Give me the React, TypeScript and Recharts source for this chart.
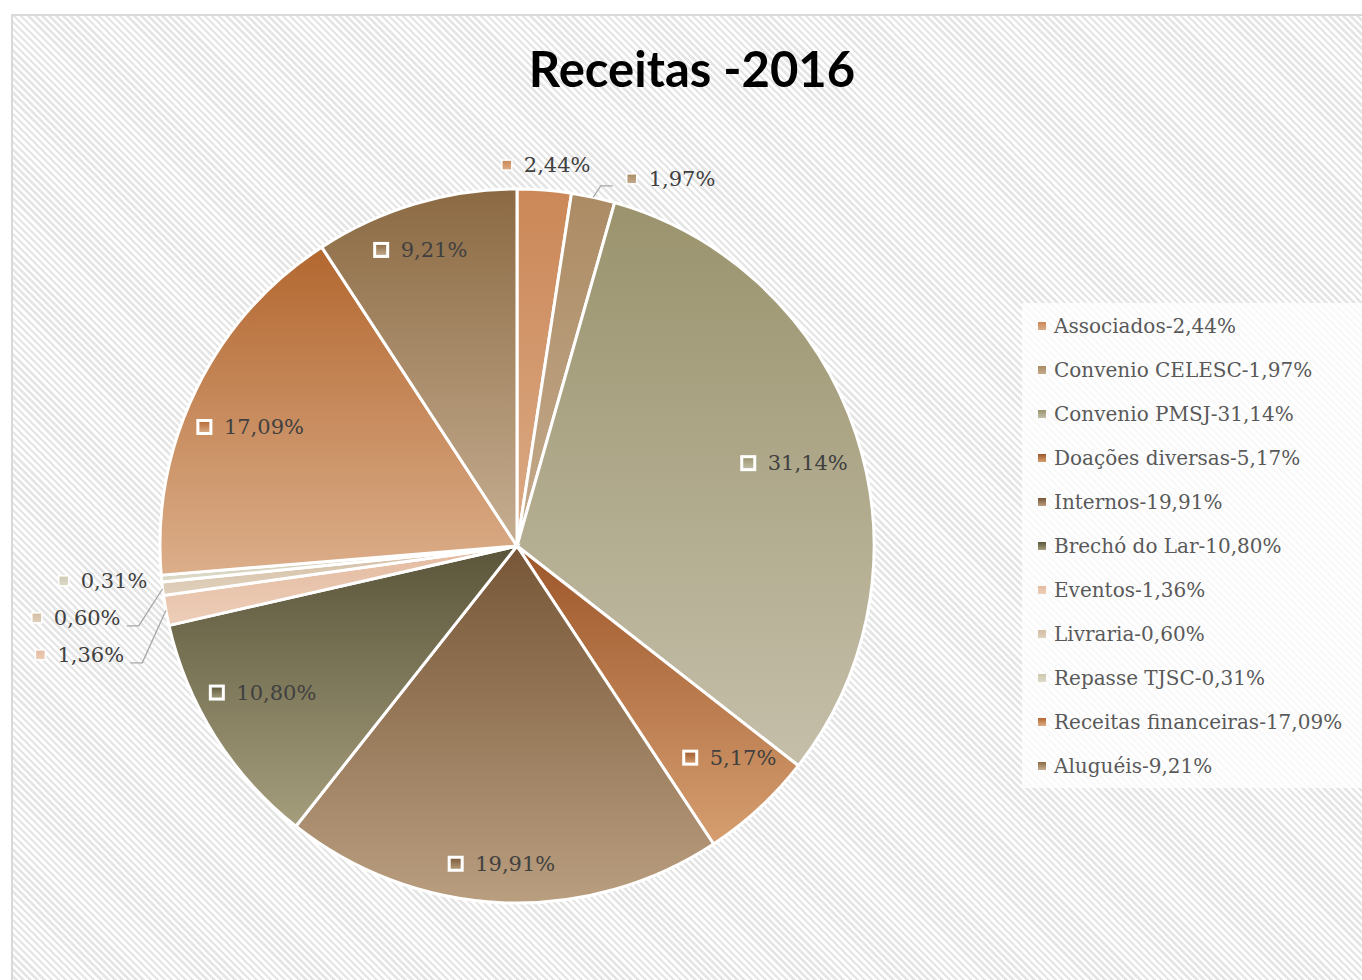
import { PieChart, Pie, Cell, Legend } from 'recharts';

const categories = [
  'Associados',
  'Convenio CELESC',
  'Convenio PMSJ',
  'Doações diversas',
  'Internos',
  'Brechó do Lar',
  'Eventos',
  'Livraria',
  'Repasse TJSC',
  'Receitas financeiras',
  'Aluguéis',
];
const shares = [2.44, 1.97, 31.14, 5.17, 19.91, 10.8, 1.36, 0.6, 0.31, 17.09, 9.21];
const shareLabels = ['2,44%', '1,97%', '31,14%', '5,17%', '19,91%', '10,80%', '1,36%', '0,60%', '0,31%', '17,09%', '9,21%'];

// top / bottom of each slice's vertical gradient
const topColors = ['#cb8757', '#ab8b64', '#9a936d', '#9c5629', '#765636', '#5a553a', '#e3baa0', '#d3bea3', '#cdc9b0', '#b3672f', '#8b6a43'];
const bottomColors = ['#dbab86', '#c4ab8d', '#c5bfaa', '#d69e70', '#b99e7f', '#a59e7d', '#edceb8', '#e0d0bc', '#dddac9', '#dbae8a', '#c6ae91'];

const W = 1362;
const H = 980;
const CX = 517;
const CY = 546;
const R = 357;
const RAD = Math.PI / 180;
const FONT = '"DejaVu Serif", serif';

const data = categories.map((name, i) => ({ name, value: shares[i] }));

const total = shares.reduce((a, b) => a + b, 0);
const midAngles = shares.map((v, i) => {
  const before = shares.slice(0, i).reduce((a, b) => a + b, 0);
  return 90 - (360 * (before + v / 2)) / total;
});

const polar = (r: number, a: number) => [CX + r * Math.cos(a * RAD), CY - r * Math.sin(a * RAD)];

// rough text width for DejaVu Serif 21px
const textWidth = (s: string) =>
  s.split('').reduce((w, ch) => w + (ch === ',' ? 6.7 : ch === '%' ? 20 : 13.4), 0);

type Place = { x: number; y: number; moved: boolean };

// place the small slice labels outside, pushing them apart where they collide
function outsidePlaces() {
  const places: Record<number, Place> = {};
  const small = shares.map((v, i) => i).filter((i) => shares[i] < 3);
  const right = small.filter((i) => Math.cos(midAngles[i] * RAD) >= 0);
  const left = small.filter((i) => Math.cos(midAngles[i] * RAD) < 0);

  let prevEnd = -Infinity;
  right.forEach((i) => {
    const [nx, ny] = polar(R + 25, midAngles[i]);
    const w = 22 + textWidth(shareLabels[i]);
    let start = nx - w / 2;
    let moved = false;
    if (start < prevEnd + 8) {
      start = prevEnd + 36;
      moved = true;
    }
    places[i] = { x: start, y: moved ? ny + 6 : ny, moved };
    prevEnd = start + w;
  });

  const sorted = [...left].sort((a, b) => polar(R + 25, midAngles[a])[1] - polar(R + 25, midAngles[b])[1]);
  let prevY = -Infinity;
  sorted.forEach((i) => {
    const [nx, ny] = polar(R + 25, midAngles[i]);
    const y = Math.max(ny, prevY + 37);
    const moved = y > ny + 3;
    // x is the right end of the text
    places[i] = { x: moved ? nx - 17 : nx + 11, y, moved };
    prevY = y;
  });
  return places;
}

const outside = outsidePlaces();

const renderLabel = (props: any) => {
  const i = props.index as number;
  const mid = props.midAngle as number;
  const label = shareLabels[i];
  const tw = textWidth(label);
  const grad = `url(#slice${i})`;

  if (shares[i] >= 3) {
    const w = 26 + tw;
    // best fit: labels lean a little toward the horizontal and wide ones sit further in
    const a = mid - 2.5 * Math.sin(2 * mid * RAD);
    const r = R * 0.895 - 0.29 * w * Math.abs(Math.cos(a * RAD));
    const [x, y] = polar(r, a);
    const x0 = x - w / 2;
    return (
      <g key={`l${i}`}>
        <rect x={x0} y={y - 6.5} width={13} height={13} fill={grad} stroke="#ffffff" strokeWidth={3} />
        <text x={x0 + 26} y={y} fill="#404040" fontSize={21} fontFamily={FONT} dominantBaseline="central">
          {label}
        </text>
      </g>
    );
  }

  const p = outside[i];
  const [ex, ey] = polar(R, mid);
  const isRight = Math.cos(mid * RAD) >= 0;
  if (isRight) {
    return (
      <g key={`l${i}`}>
        {p.moved && (
          <polyline
            points={`${ex},${ey} ${p.x - 26},${p.y + 7} ${p.x - 14},${p.y + 7}`}
            fill="none"
            stroke="#a6a6a6"
            strokeWidth={1.3}
          />
        )}
        <rect x={p.x} y={p.y - 5} width={10} height={10} fill={grad} stroke="#ffffff" strokeWidth={1.5} />
        <text x={p.x + 22} y={p.y} fill="#404040" fontSize={21} fontFamily={FONT} dominantBaseline="central">
          {label}
        </text>
      </g>
    );
  }
  const start = p.x - tw;
  return (
    <g key={`l${i}`}>
      {p.moved && (
        <polyline
          points={`${ex},${ey} ${p.x + 18},${p.y + 8} ${p.x + 6},${p.y + 8}`}
          fill="none"
          stroke="#a6a6a6"
          strokeWidth={1.3}
        />
      )}
      <rect x={start - 22} y={p.y - 5} width={10} height={10} fill={grad} stroke="#ffffff" strokeWidth={1.5} />
      <text x={start} y={p.y} fill="#404040" fontSize={21} fontFamily={FONT} dominantBaseline="central">
        {label}
      </text>
    </g>
  );
};

const renderLegend = () => (
  <div
    style={{
      background: 'rgba(255,255,255,0.75)',
      width: 340,
      height: 485,
      paddingTop: 1,
      boxSizing: 'border-box',
    }}
  >
    {categories.map((c, i) => (
      <div
        key={c}
        style={{
          display: 'flex',
          alignItems: 'center',
          height: 44,
          fontFamily: FONT,
          fontSize: 20,
          color: '#595959',
          whiteSpace: 'nowrap',
        }}
      >
        <span
          style={{
            display: 'inline-block',
            width: 8,
            height: 8,
            marginLeft: 16,
            marginRight: 8,
            background: `linear-gradient(${topColors[i]}, ${bottomColors[i]})`,
          }}
        />
        {c}-{shareLabels[i]}
      </div>
    ))}
  </div>
);

export default function App() {
  return (
    <div
      style={{
        position: 'absolute',
        left: 0,
        top: 0,
        width: W,
        height: H,
        overflow: 'hidden',
        background: '#ffffff',
      }}
    >
      <div
        style={{
          position: 'absolute',
          left: 11,
          top: 14,
          width: W,
          height: H,
          borderLeft: '2px solid #d9d9d9',
          borderTop: '2px solid #d9d9d9',
          background:
            'repeating-linear-gradient(45deg, #ffffff 0px, #ffffff 2.5px, #e6e6e6 2.5px, #e6e6e6 5px)',
        }}
      />
      <div
        style={{
          position: 'absolute',
          left: 0,
          top: 40,
          width: 1384,
          textAlign: 'center',
          fontFamily: 'Lato, sans-serif',
          fontWeight: 700,
          fontSize: 49,
          lineHeight: '56px',
          color: '#000000',
        }}
      >
        Receitas -2016
      </div>
      <div style={{ position: 'absolute', left: 0, top: 0 }}>
        <PieChart width={W} height={H} margin={{ top: 0, right: 0, bottom: 0, left: 0 }}>
          <defs>
            {categories.map((c, i) => (
              <linearGradient key={c} id={`slice${i}`} x1="0" y1="0" x2="0" y2="1">
                <stop offset="0%" stopColor={topColors[i]} />
                <stop offset="100%" stopColor={bottomColors[i]} />
              </linearGradient>
            ))}
          </defs>
          <Pie
            data={data}
            dataKey="value"
            nameKey="name"
            cx={CX}
            cy={CY}
            outerRadius={R}
            startAngle={90}
            endAngle={-270}
            stroke="#ffffff"
            strokeWidth={3}
            label={renderLabel}
            labelLine={false}
            isAnimationActive={false}
          >
            {data.map((d, i) => (
              <Cell key={d.name} fill={`url(#slice${i})`} />
            ))}
          </Pie>
          <Legend
            layout="vertical"
            align="right"
            verticalAlign="top"
            content={renderLegend}
            wrapperStyle={{ left: 1022, top: 303, width: 340, height: 485, right: 'auto' }}
          />
        </PieChart>
      </div>
    </div>
  );
}
